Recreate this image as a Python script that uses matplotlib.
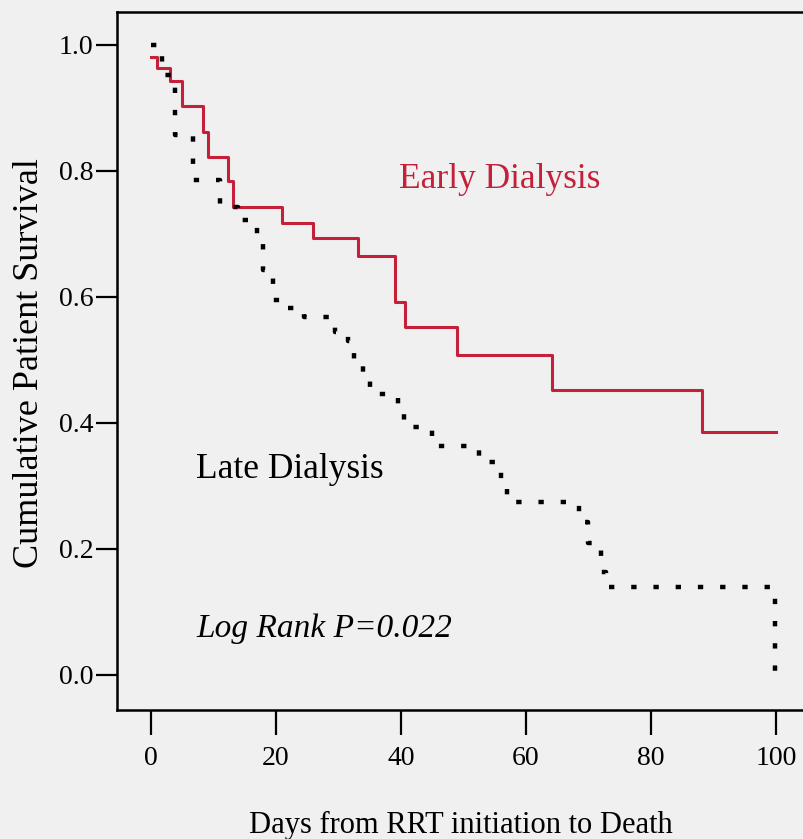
"""Kaplan-Meier curves: early vs late dialysis."""

import matplotlib
matplotlib.use('Agg')
import matplotlib.pyplot as plt

# Early dialysis (red, solid): step times and survival after each step
early_days = [0, 1, 3, 5, 8.3, 9.1, 12.3, 13.1, 21, 26, 33.1, 39, 40.6, 48.9, 64.2, 88.2, 100]
early_surv = [0.981, 0.963, 0.943, 0.903, 0.862, 0.822, 0.784, 0.743, 0.717, 0.694,
              0.665, 0.592, 0.552, 0.508, 0.452, 0.386, 0.386]

# Late dialysis (black, dotted)
late_days = [0, 1.8, 3.8, 6.7, 11, 14, 17, 18, 19.5, 22, 24.5, 29.5, 31.5, 32.5, 34, 35,
             39.5, 40.5, 45, 52.5, 56, 57, 68.5, 70, 72, 72.8, 99.8, 100]
late_surv = [1.0, 0.952, 0.857, 0.786, 0.743, 0.722, 0.69, 0.643, 0.595, 0.583, 0.568,
             0.544, 0.53, 0.497, 0.473, 0.446, 0.42, 0.394, 0.364, 0.338, 0.31, 0.275,
             0.243, 0.21, 0.163, 0.14, 0.0, 0.0]

x_ticks = [0, 20, 40, 60, 80, 100]
y_ticks = [0.0, 0.2, 0.4, 0.6, 0.8, 1.0]

bg = '#f0f0f0'
red = '#c4203a'
serif = ['Liberation Serif', 'DejaVu Serif']

fig = plt.figure(figsize=(8.04, 8.39), dpi=100, facecolor=bg)
ax = fig.add_axes([117 / 804, 129 / 839, 687 / 804, 698 / 839], facecolor=bg)

ax.step(early_days, early_surv, where='post', color=red, linewidth=2.2)
ax.step(late_days, late_surv, where='post', color='black', linewidth=3.2,
        linestyle=(0, (1.2, 3.8)), dash_capstyle='butt')

ax.set_xlim(-5.44, 104.5)
ax.set_ylim(-0.0556, 1.052)

ax.set_xticks(x_ticks)
ax.set_xticklabels([str(v) for v in x_ticks], fontfamily=serif, fontsize=20)
ax.set_yticks(y_ticks)
ax.set_yticklabels([f'{v:.1f}' for v in y_ticks], fontfamily=serif, fontsize=20)
ax.tick_params(axis='x', direction='out', length=18, width=1.6, pad=8)
ax.tick_params(axis='y', direction='out', length=15, width=1.6, pad=2)

for side in ['left', 'bottom', 'top']:
    ax.spines[side].set_linewidth(1.8)
ax.spines['right'].set_visible(False)

ax.text(55.8, 0.773, 'Early Dialysis', color=red, fontsize=25.5, fontfamily=serif,
        ha='center', va='baseline')
ax.text(22.2, 0.313, 'Late Dialysis', color='black', fontsize=25.5, fontfamily=serif,
        ha='center', va='baseline')
ax.text(27.7, 0.060, 'Log Rank P=0.022', color='black', fontsize=24, fontfamily=serif,
        fontstyle='italic', ha='center', va='baseline')

fig.text(461 / 804, 1 - 833 / 839, 'Days from RRT initiation to Death', fontsize=22,
         fontfamily=serif, ha='center', va='baseline')
fig.text(30 / 804, 1 - 363 / 839, 'Cumulative Patient Survival', fontsize=26,
         fontfamily=serif, rotation=90, ha='center', va='center')

plt.savefig('out.png', dpi=100, facecolor=bg)
plt.close()
